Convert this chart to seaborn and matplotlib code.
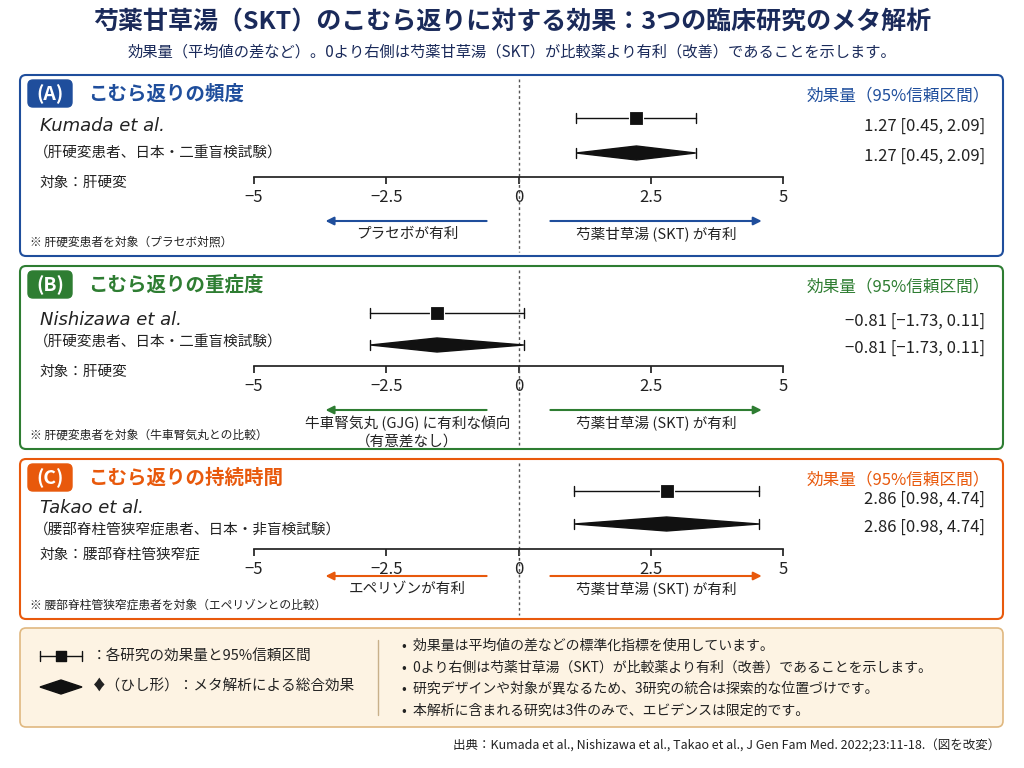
import seaborn as sns
import matplotlib.pyplot as plt
import pandas as pd
from matplotlib.patches import FancyBboxPatch

sns.set_theme(style="white")
plt.rcParams['font.family'] = ['Noto Sans CJK JP', 'DejaVu Sans']

# Data (positions as drawn in the figure, labels as printed)
studies = ["Kumada et al.", "Nishizawa et al.", "Takao et al."]
est = [2.23, -1.54, 2.80]
lo = [1.09, -2.80, 1.05]
hi = [3.35, 0.10, 4.55]
labels = ["1.27 [0.45, 2.09]", "−0.81 [−1.73, 0.11]", "2.86 [0.98, 4.74]"]
titles = ["こむら返りの頻度", "こむら返りの重症度", "こむら返りの持続時間"]
badges = ["(A)", "(B)", "(C)"]
designs = ["（肝硬変患者、日本・二重盲検試験）", "（肝硬変患者、日本・二重盲検試験）", "（腰部脊柱管狭窄症患者、日本・非盲検試験）"]
targets = ["対象：肝硬変", "対象：肝硬変", "対象：腰部脊柱管狭窄症"]
left_fav = ["プラセボが有利", "牛車腎気丸 (GJG) に有利な傾向\n（有意差なし）", "エペリゾンが有利"]
notes = ["※ 肝硬変患者を対象（プラセボ対照）", "※ 肝硬変患者を対象（牛車腎気丸との比較）", "※ 腰部脊柱管狭窄症患者を対象（エペリゾンとの比較）"]
ticks = [-5, -2.5, 0, 2.5, 5]
tick_labels = ["−5", "−2.5", "0", "2.5", "5"]
colors = ["#1f4e9c", "#2e7d32", "#e8590c"]

# layout in pixels: panel top, panel bottom, row1 y, row2 y, axis y, name y, design y
panels = [(75, 256, 118, 153, 177, 126, 154),
          (266, 449, 313, 345, 366, 320, 343),
          (459, 619, 491, 524, 549, 508, 530)]

fig = plt.figure(figsize=(10.24, 7.68), dpi=100)
bg = fig.add_axes([0, 0, 1, 1])
bg.set_xlim(0, 1024)
bg.set_ylim(768, 0)
bg.axis("off")

bg.text(512, 22, "芍薬甘草湯（SKT）のこむら返りに対する効果：3つの臨床研究のメタ解析",
        ha="center", va="center", fontsize=18, fontweight="bold", color="#1a2a5a")
bg.text(512, 52, "効果量（平均値の差など）。0より右側は芍薬甘草湯（SKT）が比較薬より有利（改善）であることを示します。",
        ha="center", va="center", fontsize=11, color="#1a2a5a")

for i in range(3):
    top, bot, r1, r2, axy, ny, dy = panels[i]
    c = colors[i]
    bg.add_patch(FancyBboxPatch((20, top), 983, bot - top, boxstyle="round,pad=0,rounding_size=6",
                                fc="white", ec=c, lw=1.5))
    bg.add_patch(FancyBboxPatch((28, top + 5), 44, 27, boxstyle="round,pad=0,rounding_size=5",
                                fc=c, ec=c))
    bg.text(50, top + 19, badges[i], ha="center", va="center", color="white", fontsize=14, fontweight="bold")
    bg.text(88, top + 19, titles[i], ha="left", va="center", color=c, fontsize=14, fontweight="bold")
    bg.text(990, top + 21, "効果量（95%信頼区間）", ha="right", va="center", color=c, fontsize=12)
    bg.text(40, ny, studies[i], ha="left", va="center", fontsize=13, style="italic", color="#222",
            family="DejaVu Sans")
    bg.text(34, dy, designs[i], ha="left", va="center", fontsize=10.5, color="#222")
    bg.text(40, axy + 6, targets[i], ha="left", va="center", fontsize=10.5, color="#222")
    bg.text(985, r1 + 8, labels[i], ha="right", va="center", fontsize=12, color="#222")
    bg.text(985, r2 + 3, labels[i], ha="right", va="center", fontsize=12, color="#222")
    bg.text(30, bot - 14, notes[i], ha="left", va="center", fontsize=8.5, color="#222")

    ax = fig.add_axes([254 / 1024, 1 - axy / 768, 529 / 1024, (axy - top) / 768])
    ax.set_xlim(-5, 5)
    ax.set_ylim(axy, top)
    ax.patch.set_alpha(0)
    for s in ["top", "right", "left"]:
        ax.spines[s].set_visible(False)
    ax.spines["bottom"].set_color("#222")
    ax.set_yticks([])
    ax.set_xticks(ticks)
    ax.set_xticklabels(tick_labels, fontsize=12, color="#222")
    ax.tick_params(axis="x", direction="out", length=5, color="#222", bottom=True)
    ax.plot([0, 0], [top + 4, bot - 4], ls=(0, (2, 2)), color="#555", lw=1, clip_on=False)

    # study estimate with CI
    ax.plot([lo[i], hi[i]], [r1, r1], color="#111", lw=1)
    for e in [lo[i], hi[i]]:
        ax.plot([e, e], [r1 - 5, r1 + 5], color="#111", lw=1)
    sns.scatterplot(x=[est[i]], y=[r1], marker="s", s=110, color="#111", ax=ax, zorder=3)
    # pooled diamond
    ax.plot([lo[i], lo[i]], [r2 - 5, r2 + 5], color="#111", lw=1)
    ax.plot([hi[i], hi[i]], [r2 - 5, r2 + 5], color="#111", lw=1)
    ax.fill([lo[i], est[i], hi[i], est[i]], [r2, r2 - 7, r2, r2 + 7], color="#111", zorder=3)

    ay = axy + 44 if i < 2 else axy + 27
    ax.annotate("", xy=(-3.7, ay), xytext=(-0.55, ay), annotation_clip=False,
                arrowprops=dict(arrowstyle="-|>", color=c, lw=1.5))
    ax.annotate("", xy=(4.65, ay), xytext=(0.55, ay), annotation_clip=False,
                arrowprops=dict(arrowstyle="-|>", color=c, lw=1.5))
    ax.text(-2.1, ay + 6, left_fav[i], ha="center", va="top", fontsize=10.5, color="#222",
            clip_on=False, linespacing=1.3)
    ax.text(2.6, ay + 6, "芍薬甘草湯 (SKT) が有利", ha="center", va="top", fontsize=10.5, color="#222",
            clip_on=False)

# legend box
bg.add_patch(FancyBboxPatch((20, 628), 983, 99, boxstyle="round,pad=0,rounding_size=6",
                            fc="#fdf3e3", ec="#e0b880", lw=1.2))
bg.plot([378, 378], [640, 715], color="#c8b08a", lw=1)
bg.plot([40, 82], [656, 656], color="#111", lw=1)
bg.plot([40, 40], [651, 661], color="#111", lw=1)
bg.plot([82, 82], [651, 661], color="#111", lw=1)
bg.scatter([61], [656], marker="s", s=60, color="#111", zorder=3)
bg.fill([40, 61, 82, 61], [687, 680, 687, 694], color="#111")
bg.text(92, 656, "：各研究の効果量と95%信頼区間", ha="left", va="center", fontsize=10.5, color="#222")
bg.text(92, 687, "♦（ひし形）：メタ解析による総合効果", ha="left", va="center", fontsize=10.5, color="#222")
bullets = ["効果量は平均値の差などの標準化指標を使用しています。",
           "0より右側は芍薬甘草湯（SKT）が比較薬より有利（改善）であることを示します。",
           "研究デザインや対象が異なるため、3研究の統合は探索的な位置づけです。",
           "本解析に含まれる研究は3件のみで、エビデンスは限定的です。"]
for k, b in enumerate(bullets):
    bg.text(402, 646 + k * 21.5, "•  " + b, ha="left", va="center", fontsize=10, color="#222")

bg.text(1000, 746, "出典：Kumada et al., Nishizawa et al., Takao et al., J Gen Fam Med. 2022;23:11-18.（図を改変）",
        ha="right", va="center", fontsize=9, color="#222")

fig.savefig("out.png", dpi=100, facecolor="white")
